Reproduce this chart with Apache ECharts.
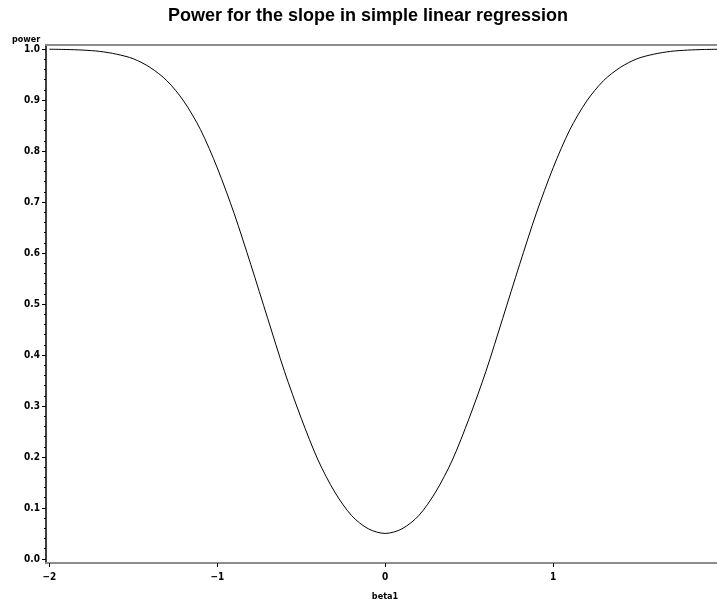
<!DOCTYPE html>
<html>
<head>
<meta charset="utf-8">
<script src="https://cdn.jsdelivr.net/npm/echarts@6/dist/echarts.min.js"></script>
<style>html,body{margin:0;padding:0;background:#fff;}#c{width:717px;height:605px;}</style>
</head>
<body>
<div id="c"></div>
<script>
const titleText = 'Power for the slope in simple linear regression';
const xName = 'beta1';
const yName = 'power';
const beta1 = [-2.0,-1.9,-1.8,-1.7,-1.6,-1.5,-1.4,-1.3,-1.2,-1.1,-1.0,-0.9,-0.8,-0.7,-0.6,-0.5,-0.4,-0.3,-0.2,-0.1,0.0,
               0.1,0.2,0.3,0.4,0.5,0.6,0.7,0.8,0.9,1.0,1.1,1.2,1.3,1.4,1.5,1.6,1.7,1.8,1.9,2.0];
const power = [0.9997,0.9992,0.998,0.9955,0.990,0.981,0.964,0.938,0.898,0.842,0.767,0.678,0.577,0.472,0.368,0.276,0.194,0.131,0.085,0.059,0.050,
               0.059,0.085,0.131,0.194,0.276,0.368,0.472,0.577,0.678,0.767,0.842,0.898,0.938,0.964,0.981,0.990,0.9955,0.998,0.9992,0.9997];
const xTicks = [-2,-1,0,1];
const yTicks = [0,0.1,0.2,0.3,0.4,0.5,0.6,0.7,0.8,0.9,1.0];
const yMinorTicks = [0,0.02,0.04,0.06,0.08,0.1,0.12,0.14,0.16,0.18,0.2,0.22,0.24,0.26,0.28,0.3,0.32,0.34,0.36,0.38,0.4,
  0.42,0.44,0.46,0.48,0.5,0.52,0.54,0.56,0.58,0.6,0.62,0.64,0.66,0.68,0.7,0.72,0.74,0.76,0.78,0.8,
  0.82,0.84,0.86,0.88,0.9,0.92,0.94,0.96,0.98,1.0];

const lblFont = {fontFamily:'DejaVu Sans Condensed, DejaVu Sans', fontWeight:'bold', fontSize:10, color:'#000'};
const chart = echarts.init(document.getElementById('c'), null, {renderer:'canvas'});
chart.setOption({
  animation:false,
  backgroundColor:'#fff',
  grid:{left:46, right:0, top:45, bottom:42, show:false},
  graphic:[
    {type:'text', x:368, y:16, style:{text:titleText, textAlign:'center', textVerticalAlign:'middle', font:'bold 18px "Liberation Sans", Arial', fill:'#000'}},
    {type:'text', x:12, y:40, style:{text:yName, textAlign:'left', textVerticalAlign:'middle', font:'bold 9px "DejaVu Sans Condensed", "DejaVu Sans"', fill:'#000'}},
    {type:'text', x:385, y:597, style:{text:xName, textAlign:'center', textVerticalAlign:'middle', font:'bold 9px "DejaVu Sans Condensed", "DejaVu Sans"', fill:'#000'}}
  ],
  xAxis:[
    {type:'value', min:-2.02, max:1.976,
      axisLine:{show:true, onZero:false, lineStyle:{color:'#8c8c8c', width:2}},
      axisTick:{show:true, length:4, customValues:xTicks, lineStyle:{color:'#000', width:1}},
      axisLabel:{customValues:xTicks, margin:9, formatter:v=>String(Math.round(v)).replace('-','−'), ...lblFont},
      splitLine:{show:false}},
    {type:'value', position:'top', min:-2.02, max:1.976,
      axisLine:{show:true, onZero:false, lineStyle:{color:'#8c8c8c', width:2}},
      axisTick:{show:false}, axisLabel:{show:false}, splitLine:{show:false}}
  ],
  yAxis:[
    {type:'value', min:-0.008, max:1.008,
      axisLine:{show:true, onZero:false, lineStyle:{color:'#000', width:1.5}},
      axisTick:{show:true, length:4, customValues:yTicks, lineStyle:{color:'#000', width:1}},
      axisLabel:{customValues:yTicks, margin:6, formatter:v=>v.toFixed(1), ...lblFont},
      splitLine:{show:false}},
    {type:'value', min:-0.008, max:1.008, position:'left',
      axisLine:{show:false, onZero:false},
      axisTick:{show:true, length:2, customValues:yMinorTicks, lineStyle:{color:'#000', width:1}},
      axisLabel:{show:false}, splitLine:{show:false}}
  ],
  series:[{type:'line', data:beta1.map((b,i)=>[b,power[i]]), showSymbol:false, smooth:0.3,
    lineStyle:{color:'#000', width:1}, clip:true}]
});
</script>
</body>
</html>
